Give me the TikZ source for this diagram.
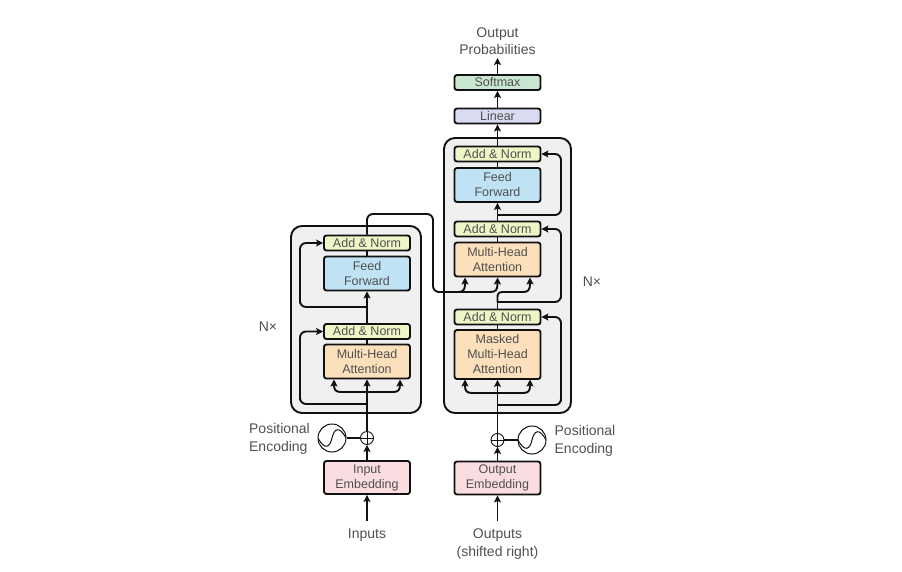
\documentclass[tikz,border=0pt]{standalone}
\usepackage{fontspec}
\setmainfont{Liberation Sans}
\usetikzlibrary{arrows.meta}
\definecolor{ink}{HTML}{111111}
\definecolor{txt}{HTML}{505050}
\definecolor{normc}{HTML}{EFF5C6}
\definecolor{ffc}{HTML}{BFE3F5}
\definecolor{mhac}{HTML}{FCE0BC}
\definecolor{embc}{HTML}{F9DDE0}
\definecolor{softc}{HTML}{C8E6D0}
\definecolor{linc}{HTML}{D9DCF0}
\definecolor{panelc}{HTML}{F0F0F0}
\tikzset{
  blk/.style={draw=ink,line width=1.9pt,rounded corners=2.5pt,minimum width=86pt,inner sep=0pt,align=center,text=txt,font=\fontsize{12.5}{15}\selectfont},
  norm/.style={blk,fill=normc,minimum height=15pt},
  ff/.style={blk,fill=ffc,minimum height=34pt},
  mha/.style={blk,fill=mhac,minimum height=34pt},
  emb/.style={blk,fill=embc,minimum height=33pt},
  soft/.style={blk,fill=softc,minimum height=15pt},
  lin/.style={blk,fill=linc,minimum height=15pt},
  panel/.style={draw=ink,line width=1.9pt,fill=panelc,rounded corners=11pt,inner sep=0pt},
  lab/.style={text=txt,font=\fontsize{14}{17.5}\selectfont,inner sep=0pt,align=center},
  conn/.style={draw=ink,line width=1.9pt,rounded corners=6pt},
  arr/.style={conn,-{Stealth[length=7pt,width=7pt,inset=1.5pt]}},
  adder/.style={circle,draw=ink,line width=0.9pt,minimum size=13pt,inner sep=0pt,
    path picture={\draw[ink,line width=0.9pt] (path picture bounding box.north)--(path picture bounding box.south) (path picture bounding box.west)--(path picture bounding box.east);}},
  wave/.style={circle,draw=ink,line width=1pt,minimum size=28pt,inner sep=0pt,
    path picture={\draw[ink,line width=1pt] (path picture bounding box.west) .. controls +(7pt,-13pt) and +(-2pt,-9pt) .. (path picture bounding box.center) .. controls +(2pt,9pt) and +(-7pt,13pt) .. (path picture bounding box.east);}}
}
\begin{document}
\begin{tikzpicture}[x=1pt,y=-1pt]
\useasboundingbox (0,0) rectangle (902,571);
% panels
\node[panel,minimum width=130pt,minimum height=187pt] (encpanel) at (356,319.5) {};
\node[panel,minimum width=127pt,minimum height=275pt] (decpanel) at (507.5,275.5) {};
% encoder
\node[norm] (enN2) at (367,243) {Add \& Norm};
\node[ff]   (enFF) at (367,273.5) {Feed\\Forward};
\node[norm] (enN1) at (367,331.5) {Add \& Norm};
\node[mha]  (enMH) at (367,361.5) {Multi-Head\\Attention};
\node[emb]  (enEm) at (367,477.5) {Input\\Embedding};
% decoder
\node[soft] (soft) at (497.5,82.5) {Softmax};
\node[lin]  (lin)  at (497.5,116) {Linear};
\node[norm] (deN3) at (497.5,154) {Add \& Norm};
\node[ff]   (deFF) at (497.5,185) {Feed\\Forward};
\node[norm] (deN2) at (497.5,229) {Add \& Norm};
\node[mha]  (deMH) at (497.5,259.5) {Multi-Head\\Attention};
\node[norm] (deN1) at (497.5,317) {Add \& Norm};
\node[mha,minimum height=49pt] (deMM) at (497.5,354.5) {Masked\\Multi-Head\\Attention};
\node[emb]  (deEm) at (497.5,478) {Output\\Embedding};
% labels
\node[lab] (outp) at (497.5,41) {Output\\Probabilities};
\node[lab] (inp)  at (367,535.5) {Inputs};
\node[lab] (oup)  at (497.5,544) {Outputs\\(shifted right)};
\node[lab,align=left] (pe1) at (279.5,439) {Positional\\Encoding};
\node[lab,align=left] (pe2) at (585,441) {Positional\\Encoding};
\node[lab] (nx1) at (268,326.5) {N×};
\node[lab] (nx2) at (592,281.5) {N×};
% encoding
\node[adder] (add1) at (367,438) {};
\node[wave]  (sin1) at (332,438) {};
\node[adder] (add2) at (497.5,440) {};
\node[wave]  (sin2) at (532,440) {};
% junctions
\coordinate (j1) at (367,404);
\coordinate (j2) at (367,392);
\coordinate (j3) at (367,307);
\coordinate (j4) at (497.5,405);
\coordinate (j5) at (497.5,393);
\coordinate (j6) at (497.5,302);
\coordinate (j7) at (497.5,215);
\coordinate (m1) at (334,379.5);
\coordinate (m2) at (400,379.5);
\coordinate (m3) at (465,379.5);
\coordinate (m4) at (530,379.5);
\coordinate (h1) at (465,277.5);
\coordinate (h2) at (497.5,277.5);
\coordinate (h3) at (530,277.5);
\coordinate (srcI) at (367,521);
\coordinate (srcO) at (497.5,521);
% encoder connectors
\draw[arr] (srcI) -- (enEm.south);
\draw[arr] (enEm.north) -- (add1.south);
\draw[conn] (sin1.east) -- (add1.west);
\draw[arr] (add1.north) -- (enMH.south);
\draw[arr,sharp corners] (j2) -- (341,392) .. controls (336,392) and (334,390) .. (334,385) -- (m1);
\draw[arr,sharp corners] (j2) -- (393,392) .. controls (398,392) and (400,390) .. (400,385) -- (m2);
\draw[arr] (j1) -| ++(-67,0) |- (enN1.west);
\draw[conn] (enMH.north) -- (enN1.south);
\draw[arr] (enN1.north) -- (enFF.south);
\draw[arr] (j3) -| ++(-67,0) |- (enN2.west);
\draw[conn] (enFF.north) -- (enN2.south);
% encoder output to decoder
\draw[conn] (enN2.north) -- (367,214) -- (433,214) -- (433,292) -- (458,292);
\draw[arr,sharp corners] (458,292) .. controls (463,292) and (465,290) .. (465,284) -- (h1);
\draw[arr,sharp corners] (458,292) -- (490,292) .. controls (495.5,292) and (497.5,290) .. (497.5,284) -- (h2);
% decoder connectors
\draw[arr] (srcO) -- (deEm.south);
\draw[arr] (deEm.north) -- (add2.south);
\draw[conn] (sin2.west) -- (add2.east);
\draw[arr] (add2.north) -- (deMM.south);
\draw[arr,sharp corners] (j5) -- (472,393) .. controls (467,393) and (465,391) .. (465,386) -- (m3);
\draw[arr,sharp corners] (j5) -- (523,393) .. controls (528,393) and (530,391) .. (530,386) -- (m4);
\draw[arr] (j4) -| ++(63.5,0) |- (deN1.east);
\draw[conn] (deMM.north) -- (deN1.south);
\draw[conn] (deN1.north) -- (j6);
\draw[arr,sharp corners] (j6) -- (497.5,297) .. controls (497.5,293.5) and (499,292) .. (503,292) -- (523,292) .. controls (528,292) and (530,290) .. (530,284) -- (h3);
\draw[arr] (j6) -| ++(63.5,0) |- (deN2.east);
\draw[conn] (deMH.north) -- (deN2.south);
\draw[arr] (deN2.north) -- (deFF.south);
\draw[arr] (j7) -| ++(63.5,0) |- (deN3.east);
\draw[conn] (deFF.north) -- (deN3.south);
\draw[arr] (deN3.north) -- (lin.south);
\draw[arr] (lin.north) -- (soft.south);
\coordinate (pt) at (497.5,58);
\draw[arr] (soft.north) -- (pt);
\end{tikzpicture}
\end{document}
